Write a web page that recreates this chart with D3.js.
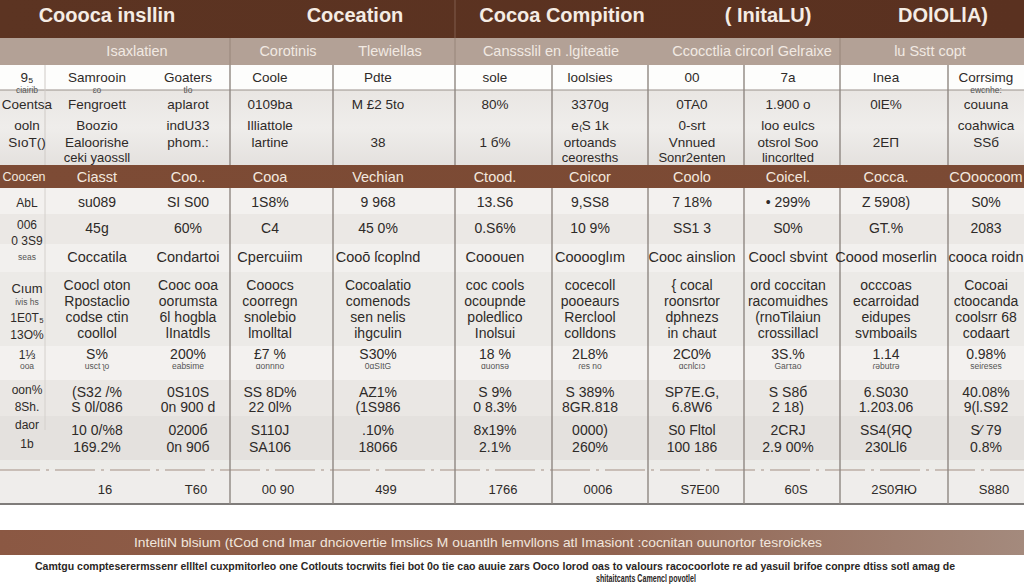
<!DOCTYPE html>
<html>
<head>
<meta charset="utf-8">
<script src="https://cdn.jsdelivr.net/npm/d3@7"></script>
<style>
  html, body { margin: 0; padding: 0; background: #ffffff; }
  svg { display: block; font-family: "Liberation Sans", Arial, sans-serif; }
</style>
</head>
<body>
<script>
// ---------------- DATA ----------------
const titles = ["Coooca insllin", "Coceation", "Cocoa Compition", "( InitaLU)", "DOlOLlA)"];
const subHeaders = ["Isaxlatien", "Corotinis", "Tlewiellas", "Canssslil en .lgiteatie", "Ccocctlia circorl Gelraixe", "lu Sstt copt"];
const headerRow = ["9\u2085", "Samrooin", "Goaters", "Coole", "Pdte", "sole", "loolsies", "00", "7a", "Inea", "Corrsimg"];
const headSmallTop = ["ciairib", "\u025Bo", "tlo", "", "", "", "", "", "", "", "ewcnhe:"];
const headRow1 = ["Coentsa", "Fengroett", "aplarot", "0109ba", "M \u00A32 5to", "80%", "3370g", "0TA0", "1.900 o", "0lE%", "couuna"];
const headRow2 = ["ooln", "Boozio", "indU33", "Illiattole", "", "", "e\u208DS 1k", "0-srt", "loo eulcs", "", "coahwica"];
const headRow3 = ["SıoT()", "Ealoorishe", "phom.:", "lartine", "38", "1 \u0431%", "ortoands", "Vnnued", "otsrol Soo", "2E\u03A0", "\u0405\u0405\u0431"];
const headRow4 = ["", "ceki yaossll", "", "", "", "", "ceoresths", "Sonr2enten", "lincorlted", "", ""];
const bandLabels = ["Coocen", "Ciasst", "Coo..", "Cooa", "Vechian", "Ctood.", "Coicor", "Coolo", "Coicel.", "Cocca.", "COoocoom"];
const rowLabels = ["AbL", "006", "0 3S9", "seas", "Cıum", "ivis hs", "1E0T\u2085", "13O%", "1\u2153", "ooa", "oon%", "8Sh.", "daor", "1b"];
const dataRows = [
  ["su089", "SI S00", "1S8%", "9 968", "13.S6", "9,SS8", "7 18%", "\u2022 299%", "Z 5908)", "S0%"],
  ["45g", "60%", "C4", "45 0%", "0.S6%", "10 9%", "SS1 3", "S0%", "GT.%", "2083"],
  ["Coccatila", "Condartoi", "Cpercuiim", "Coo\u014D \u017Fcoplnd", "Cooouen", "Coooogl\u0131m", "Cooc ainslion", "Coocl sbvint", "Coood moserlin", "cooca roidn"],
  ["Coocl oton", "Cooc ooa", "Cooocs", "Cocoalatio", "coc cools", "cocecoll", "\u007B cocal", "ord coccitan", "occcoas", "Cocoai"],
  ["Rpostaclio", "oorumsta", "coorregn", "comenods", "ocoupnde", "pooeaurs", "roonsrtor", "racomuidhes", "ecarroidad", "ctoocanda"],
  ["codse ctin", "6l hogbla", "snolebio", "sen nelis", "poledlico", "Rerclool", "dphnezs", "(rnoTilaiun", "eidupes", "coolsrr 68"],
  ["coollol", "lInatdls", "lmolltal", "ihgculin", "Inolsui", "colldons", "in chaut", "crossillacl", "svmboails", "codaart"],
  ["S%", "200%", "\u00A37 %", "S30%", "18 %", "2L8%", "2C0%", "3S.%", "1.14", "0.98%"],
  ["usct \u0285o", "eabsime", "\u0251onnno", "0\u0251SItG", "\u0251uonsə", "\u027Ees no", "\u0251cnlcıɔ", "Garτao", "\u027Eəbutrə", "seiɾeses"],
  ["(S32 /%", "0S10S", "SS 8D%", "AZ1%", "S 9%", "S 389%", "SP7E.G,", "S S8\u0431", "6.S030", "40.08%"],
  ["S 0l/086", "0n 900 d", "22 0l%", "(1S986", "0 8.3%", "8GR.818", "6.8W6", "2 18)", "1.203.06", "9(l.S92"],
  ["10 0/%8", "0200\u0431", "S110J", ".10%", "8x19%", "0000)", "S0 Fltol", "2CRJ", "SS4(\u042FQ", "S\u2044 79"],
  ["169.2%", "0n 90\u0431", "SA106", "18066", "2.1%", "260%", "100 186", "2.9 00%", "230Ll6", "0.8%"]
];
const footerRow = ["16", "T60", "00 90", "499", "1766", "0006", "S7E00", "60S", "2S0\u042F\u042E", "S880"];
const bandNote = "InteltiN blsium (tCod cnd Imar dnciovertie   Imslics M ouantlh lemvllons atl Imasiont :cocnitan ouunortor tesroickes";
const caption1 = "Camtgu compteserermssenr ellltel cuxpmitorleo one Cotlouts tocrwits fiei bot 0o tie cao auuie zars Ooco lorod oas to valours racocoorlote re ad yasuil brifoe conpre dtiss sotl amag de";
const caption2 = "shitaitcants Camencl povotlel";

// ---------------- LAYOUT ----------------
const W = 1024, H = 585;
const colCenters = [27, 97, 188, 270, 378, 495, 590, 692, 788, 886, 986];
const colEdges = [45, 230, 333, 455, 552, 648, 744, 840, 948];
const titleCenters = [107, 355, 562, 768, 943];
const subCenters = [137, 288, 390, 551, 752, 930];
const dataRowY = [202, 228, 257, 285, 301, 317, 333, 354, 366, 392, 407, 430, 447];
const dataRowSize = [14, 14, 14.5, 14, 14, 14, 14, 14, 8.5, 14, 14, 14, 14];
const labelY = [203, 225, 241, 257, 288, 302, 318, 335, 355, 366, 390, 407, 425, 444];
const labelSize = [12, 12, 12, 8.5, 13, 8.5, 12, 12, 12, 8.5, 12, 12, 12, 12];

const svg = d3.select("body").append("svg").attr("width", W).attr("height", H);

const x = d3.scaleOrdinal().domain(d3.range(11)).range(colCenters);
const xData = d3.scaleOrdinal().domain(d3.range(10)).range(colCenters.slice(1));
const yData = d3.scaleOrdinal().domain(d3.range(dataRowY.length)).range(dataRowY);
const yLabel = d3.scaleOrdinal().domain(d3.range(labelY.length)).range(labelY);

// gradients
const defs = svg.append("defs");
const g1 = defs.append("linearGradient").attr("id", "noteGrad");
g1.append("stop").attr("offset", "0%").attr("stop-color", "#8b5843");
g1.append("stop").attr("offset", "60%").attr("stop-color", "#916350");
g1.append("stop").attr("offset", "100%").attr("stop-color", "#a48a7d");
const g2 = defs.append("linearGradient").attr("id", "titleGrad");
g2.append("stop").attr("offset", "0%").attr("stop-color", "#5c3422");
g2.append("stop").attr("offset", "100%").attr("stop-color", "#5a3120");
const g3 = defs.append("linearGradient").attr("id", "bandGrad");
g3.append("stop").attr("offset", "0%").attr("stop-color", "#7d4b35");
g3.append("stop").attr("offset", "100%").attr("stop-color", "#7b4a34");
const g4 = defs.append("linearGradient").attr("id", "grayGrad").attr("x1", 0).attr("x2", 0).attr("y1", 0).attr("y2", 1);
g4.append("stop").attr("offset", "0%").attr("stop-color", "#e9e6e3");
g4.append("stop").attr("offset", "50%").attr("stop-color", "#efedeb");
g4.append("stop").attr("offset", "100%").attr("stop-color", "#e4e1de");

// ---------------- BACKGROUNDS ----------------
svg.append("rect").attr("x", 0).attr("y", 0).attr("width", W).attr("height", H).attr("fill", "#ffffff");
svg.append("rect").attr("x", 0).attr("y", 0).attr("width", W).attr("height", 38).attr("fill", "url(#titleGrad)");
svg.append("rect").attr("x", 0).attr("y", 38).attr("width", W).attr("height", 27).attr("fill", "#b3a196");
svg.append("rect").attr("x", 0).attr("y", 65).attr("width", W).attr("height", 25).attr("fill", "#fdfdfc");
svg.append("rect").attr("x", 0).attr("y", 90).attr("width", W).attr("height", 75).attr("fill", "url(#grayGrad)");
svg.append("rect").attr("x", 0).attr("y", 165).attr("width", W).attr("height", 23).attr("fill", "url(#bandGrad)");

// data area stripes
const stripes = [
  [188, 26, "#f3f1ef"], [214, 30, "#ebe8e5"], [244, 28, "#f2f0ee"], [272, 74, "#eceae7"],
  [346, 34, "#f3f1ef"], [380, 36, "#eae7e4"], [416, 44, "#e4e1de"], [460, 10, "#ecebe8"], [470, 34, "#efedeb"]
];
svg.append("g").selectAll("rect").data(stripes).join("rect")
  .attr("x", 0).attr("y", d => d[0]).attr("width", W).attr("height", d => d[1]).attr("fill", d => d[2]);

// horizontal lines
svg.append("line").attr("x1", 0).attr("x2", W).attr("y1", 90).attr("y2", 90).attr("stroke", "#9a918c").attr("stroke-width", 1);
svg.append("line").attr("x1", 0).attr("x2", W).attr("y1", 470).attr("y2", 470).attr("stroke", "#a48f84").attr("stroke-width", 1).attr("stroke-dasharray", "40,6,3,6");
svg.append("line").attr("x1", 0).attr("x2", W).attr("y1", 504).attr("y2", 504).attr("stroke", "#7f7c7a").attr("stroke-width", 2);

// vertical lines
svg.append("line").attr("x1", 455).attr("x2", 455).attr("y1", 0).attr("y2", 38).attr("stroke", "#7b5646").attr("stroke-width", 1.2);
svg.append("g").selectAll("line").data([230, 455, 840]).join("line")
  .attr("x1", d => d).attr("x2", d => d).attr("y1", 38).attr("y2", 65)
  .attr("stroke", "#9c8a7f").attr("stroke-width", 1.2);
svg.append("g").selectAll("line").data(colEdges).join("line")
  .attr("x1", d => d).attr("x2", d => d).attr("y1", 65).attr("y2", 165)
  .attr("stroke", d => d === 45 ? "#cfcac6" : "#8f8782").attr("stroke-width", d => d === 45 ? 1 : 1.4);
svg.append("g").selectAll("line").data(colEdges).join("line")
  .attr("x1", d => d).attr("x2", d => d).attr("y1", 188).attr("y2", d => d === 45 ? 430 : 504)
  .attr("stroke", d => d === 45 ? "#d4d0cc" : "#8f8782").attr("stroke-width", d => d === 45 ? 1 : 1.4);

// ---------------- TEXT ----------------
svg.append("g").selectAll("text").data(titles).join("text")
  .attr("x", (d, i) => titleCenters[i]).attr("y", 15).attr("dy", "0.36em")
  .attr("text-anchor", "middle").attr("font-size", 20).attr("font-weight", "bold")
  .attr("fill", "#f5ece4").text(d => d);

svg.append("g").selectAll("text").data(subHeaders).join("text")
  .attr("x", (d, i) => subCenters[i]).attr("y", 51).attr("dy", "0.35em")
  .attr("text-anchor", "middle").attr("font-size", 14.5)
  .attr("fill", "#f1e9e2").text(d => d);

function textRow(arr, y, size, color, xs) {
  svg.append("g").selectAll("text").data(arr).join("text")
    .attr("x", (d, i) => xs(i)).attr("y", y).attr("dy", "0.35em")
    .attr("text-anchor", "middle").attr("font-size", size)
    .attr("fill", color).text(d => d);
}

textRow(headerRow, 77, 13.5, "#2e2a28", x);
textRow(headSmallTop, 90, 8.5, "#555", x);
textRow(headRow1, 104, 13.5, "#2e2a28", x);
textRow(headRow2, 125, 13.5, "#2e2a28", x);
textRow(headRow3, 142, 13.5, "#2e2a28", x);
textRow(headRow4, 157, 13, "#2e2a28", x);

svg.append("g").selectAll("text").data(bandLabels).join("text")
  .attr("x", (d, i) => i === 0 ? 24 : x(i)).attr("y", 177).attr("dy", "0.35em")
  .attr("text-anchor", "middle").attr("font-size", (d, i) => i === 0 ? 12.5 : 14.5)
  .attr("fill", "#f3e8df").text(d => d);

// row labels (first column)
svg.append("g").selectAll("text").data(rowLabels).join("text")
  .attr("x", 27).attr("y", (d, i) => yLabel(i)).attr("dy", "0.35em")
  .attr("text-anchor", "middle").attr("font-size", (d, i) => labelSize[i])
  .attr("fill", (d, i) => labelSize[i] < 10 ? "#555" : "#2e2a28").text(d => d);

// data cells
dataRows.forEach((row, r) => {
  svg.append("g").selectAll("text").data(row).join("text")
    .attr("x", (d, i) => xData(i)).attr("y", yData(r)).attr("dy", "0.35em")
    .attr("text-anchor", "middle").attr("font-size", dataRowSize[r])
    .attr("fill", dataRowSize[r] < 10 ? "#555" : "#2e2a28").text(d => d);
});

// footer
svg.append("g").selectAll("text").data(footerRow).join("text")
  .attr("x", (d, i) => xData(i) + 8).attr("y", 489).attr("dy", "0.35em")
  .attr("text-anchor", "middle").attr("font-size", 13)
  .attr("fill", "#2e2a28").text(d => d);

// bottom note band
svg.append("rect").attr("x", 0).attr("y", 530).attr("width", W).attr("height", 25).attr("fill", "url(#noteGrad)");
svg.append("text").attr("x", 478).attr("y", 542).attr("dy", "0.35em").attr("text-anchor", "middle")
  .attr("font-size", 13).attr("fill", "#f1e6dd")
  .attr("textLength", 688).attr("lengthAdjust", "spacingAndGlyphs").text(bandNote);

svg.append("text").attr("x", 495).attr("y", 566).attr("dy", "0.35em").attr("text-anchor", "middle")
  .attr("font-size", 11).attr("font-weight", "bold").attr("fill", "#2a2624")
  .attr("textLength", 920).attr("lengthAdjust", "spacingAndGlyphs").text(caption1);
svg.append("text").attr("x", 646).attr("y", 578).attr("dy", "0.35em").attr("text-anchor", "middle")
  .attr("font-size", 10.5).attr("font-weight", "bold").attr("fill", "#2a2624")
  .attr("textLength", 100).attr("lengthAdjust", "spacingAndGlyphs").text(caption2);
</script>
</body>
</html>
